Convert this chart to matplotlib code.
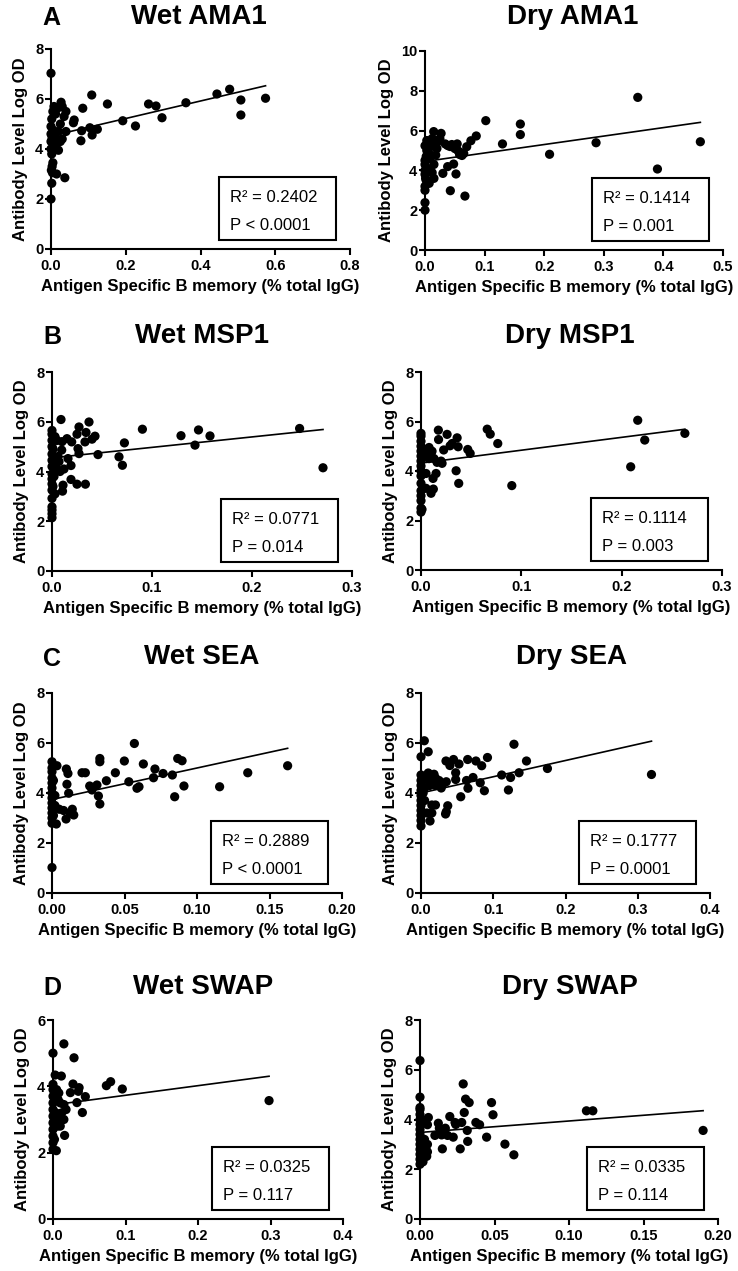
import matplotlib
matplotlib.use("Agg")
import matplotlib.pyplot as plt
from matplotlib.patches import Rectangle
import numpy as np

plt.rcParams['font.family'] = ['Liberation Sans', 'DejaVu Sans']

# ---------------- data ----------------
wet_ama1 = [(0, 7.03), (0, 2.0), (0.002, 2.63), (0.004, 3.05), (0.003, 3.3), (0.005, 3.45), (0.002, 3.8),
            (0, 4.0), (0, 4.3), (0, 4.6), (0, 4.9), (0.002, 5.2), (0.005, 5.5), (0.001, 3.15), (0.003, 4.45),
            (0.006, 4.75), (0.015, 3.0), (0.02, 3.95), (0.037, 2.85), (0.027, 5.87), (0.01, 5.5), (0.015, 5.6),
            (0.03, 5.7), (0.04, 5.5), (0.035, 5.3), (0.025, 5.0), (0.02, 4.7), (0.03, 4.4), (0.04, 4.7),
            (0.01, 4.5), (0.015, 4.2), (0.025, 4.3), (0.008, 5.7), (0.012, 5.4), (0.018, 5.65),
            (0.062, 5.16), (0.06, 5.05), (0.085, 5.63), (0.082, 4.73), (0.08, 4.33), (0.109, 6.16),
            (0.104, 4.85), (0.11, 4.56), (0.124, 4.79), (0.151, 5.8), (0.192, 5.13), (0.226, 4.92),
            (0.261, 5.8), (0.281, 5.72), (0.297, 5.25), (0.361, 5.85), (0.444, 6.2), (0.478, 6.39),
            (0.508, 5.96), (0.508, 5.36), (0.574, 6.03)]

dry_ama1 = [(0, 2.0), (0, 2.38), (0, 3.0), (0, 3.2), (0.002, 3.5), (0, 3.8), (0, 4.0), (0, 4.3), (0, 4.5),
            (0, 5.24), (0.003, 5.5), (0.002, 4.7), (0.004, 4.1), (0.001, 3.6), (0.003, 5.0),
            (0.0146, 5.95), (0.012, 3.89), (0.007, 3.35), (0.015, 3.6), (0.018, 4.77), (0.02, 5.4),
            (0.025, 5.6), (0.027, 5.86), (0.015, 4.3), (0.008, 4.6), (0.01, 5.2), (0.012, 5.6),
            (0.006, 4.9), (0.02, 5.1), (0.03, 3.85), (0.034, 5.33), (0.038, 4.19), (0.0425, 2.98),
            (0.045, 5.3), (0.048, 4.32), (0.052, 3.82), (0.054, 5.33), (0.055, 5.0), (0.06, 4.9),
            (0.065, 4.85), (0.067, 2.71), (0.07, 5.19), (0.077, 5.49), (0.086, 5.73), (0.038, 5.25),
            (0.042, 5.2), (0.05, 5.1), (0.058, 4.8), (0.062, 4.75), (0.102, 6.5), (0.13, 5.33),
            (0.16, 6.33), (0.16, 5.8), (0.209, 4.81), (0.287, 5.39), (0.357, 7.67), (0.39, 4.07),
            (0.462, 5.44)]

wet_msp1 = [(0, 2.14), (0, 2.3), (0, 2.45), (0, 2.58), (0, 2.92), (0, 3.25), (0, 3.5), (0, 3.7), (0, 3.9),
            (0, 4.2), (0, 4.45), (0, 4.7), (0, 5.0), (0, 5.25), (0, 5.5), (0, 5.65), (0.001, 3.4),
            (0.002, 3.8), (0.002, 4.3), (0.001, 4.9), (0.003, 5.4), (0.003, 3.1), (0.009, 6.09),
            (0.005, 5.25), (0.01, 5.2), (0.0097, 4.86), (0.005, 4.1), (0.011, 3.45), (0.0105, 3.21),
            (0.015, 5.32), (0.016, 4.52), (0.019, 4.24), (0.0197, 5.19), (0.019, 3.68), (0.025, 5.5),
            (0.027, 5.79), (0.025, 3.49), (0.026, 4.92), (0.027, 4.72), (0.034, 5.57), (0.0334, 3.49),
            (0.033, 5.19), (0.037, 5.99), (0.04, 5.3), (0.043, 5.42), (0.046, 4.68), (0.067, 4.59),
            (0.0704, 4.25), (0.0724, 5.15), (0.0904, 5.7), (0.129, 5.44), (0.143, 5.06), (0.1465, 5.67),
            (0.158, 5.43), (0.2476, 5.73), (0.271, 4.15), (0.007, 4.4), (0.008, 4.0), (0.006, 4.6),
            (0.012, 4.1)]

dry_msp1 = [(0, 2.34), (0, 2.5), (0, 2.8), (0, 3.0), (0, 3.2), (0, 3.5), (0, 3.8), (0, 4.0), (0, 4.2),
            (0, 4.4), (0, 4.6), (0, 4.8), (0, 5.0), (0, 5.2), (0, 5.41), (0, 5.52), (0.001, 2.45),
            (0.002, 3.3), (0.005, 3.3), (0.005, 3.9), (0.008, 4.95), (0.01, 4.7), (0.01, 3.1),
            (0.0123, 3.27), (0.012, 3.7), (0.015, 3.9), (0.013, 4.5), (0.016, 4.35), (0.0173, 5.65),
            (0.0175, 5.27), (0.02, 4.4), (0.021, 4.31), (0.0226, 4.85), (0.026, 5.48), (0.029, 5.02),
            (0.031, 5.11), (0.035, 4.01), (0.036, 5.34), (0.037, 4.98), (0.0376, 3.5), (0.0466, 4.87),
            (0.049, 4.71), (0.066, 5.69), (0.069, 5.49), (0.0765, 5.11), (0.0905, 3.41), (0.209, 4.17),
            (0.216, 6.05), (0.223, 5.25), (0.263, 5.52), (0.006, 4.6), (0.004, 4.85), (0.008, 4.5),
            (0.011, 4.8)]

wet_sea = [(0, 1.02), (0, 2.79), (0, 3.0), (0, 3.2), (0, 3.4), (0, 3.6), (0, 3.8), (0, 4.0), (0, 4.2),
           (0, 4.4), (0, 4.6), (0, 4.85), (0, 5.0), (0, 5.25), (0.001, 3.1), (0.001, 4.5), (0.002, 3.5),
           (0.003, 2.76), (0.002, 3.9), (0.0034, 5.09), (0.005, 3.35), (0.008, 3.3), (0.0097, 2.96),
           (0.0099, 4.96), (0.011, 4.78), (0.0103, 4.35), (0.0115, 3.99), (0.0126, 3.19), (0.014, 3.35),
           (0.015, 3.12), (0.0207, 4.81), (0.023, 4.81), (0.026, 4.28), (0.0276, 4.12), (0.031, 4.32),
           (0.032, 3.88), (0.033, 3.56), (0.033, 5.38), (0.033, 5.25), (0.0375, 4.49), (0.0437, 4.81),
           (0.0499, 5.28), (0.053, 4.45), (0.0568, 5.98), (0.0586, 4.19), (0.06, 4.25), (0.063, 5.16),
           (0.071, 4.96), (0.07, 4.61), (0.0766, 4.78), (0.083, 4.72), (0.0846, 3.85), (0.0867, 5.38),
           (0.0897, 5.29), (0.091, 4.28), (0.1156, 4.25), (0.135, 4.81), (0.1625, 5.09)]

dry_sea = [(0, 2.68), (0, 2.9), (0, 3.1), (0, 3.3), (0, 3.5), (0, 3.7), (0, 3.9), (0, 4.1), (0, 4.3),
           (0, 4.5), (0, 4.72), (0, 5.45), (0.0046, 6.09), (0.01, 5.65), (0.005, 3.7), (0.008, 3.2),
           (0.0125, 2.88), (0.01, 4.8), (0.01, 4.5), (0.015, 4.4), (0.015, 4.7), (0.02, 4.6), (0.02, 4.3),
           (0.015, 3.52), (0.02, 3.52), (0.015, 3.2), (0.025, 4.5), (0.028, 4.2), (0.0346, 5.28),
           (0.034, 3.16), (0.035, 3.25), (0.037, 3.49), (0.035, 4.45), (0.04, 5.1), (0.045, 5.34),
           (0.048, 4.81), (0.048, 4.54), (0.0526, 5.16), (0.055, 3.85), (0.0646, 5.34), (0.063, 4.5),
           (0.065, 4.19), (0.072, 4.62), (0.076, 5.28), (0.082, 4.41), (0.084, 5.09), (0.0877, 4.09),
           (0.092, 5.42), (0.1117, 4.72), (0.121, 4.12), (0.124, 4.62), (0.1287, 5.95), (0.1357, 4.81),
           (0.146, 5.28), (0.175, 4.98), (0.319, 4.74), (0.005, 4.2), (0.007, 4.6), (0.003, 4.0),
           (0.012, 4.3), (0.018, 4.75), (0.03, 4.35)]

wet_swap = [(0, 5.0), (0.003, 4.34), (0, 2.1), (0, 2.3), (0, 2.5), (0, 2.7), (0, 2.9), (0, 3.1), (0, 3.3),
            (0, 3.5), (0, 3.7), (0, 3.9), (0, 4.06), (0.002, 2.4), (0.002, 3.0), (0.003, 3.6),
            (0.004, 3.2), (0.005, 3.9), (0.006, 2.8), (0.0046, 2.06), (0.015, 5.28), (0.0115, 4.31),
            (0.029, 4.86), (0.016, 2.52), (0.008, 3.8), (0.01, 3.5), (0.012, 3.2), (0.015, 3.0),
            (0.018, 3.3), (0.015, 3.45), (0.024, 3.81), (0.0276, 4.07), (0.033, 3.51), (0.036, 3.96),
            (0.035, 3.85), (0.0405, 3.21), (0.0446, 3.69), (0.0736, 4.02), (0.0795, 4.14),
            (0.0956, 3.92), (0.298, 3.57), (0.007, 3.6), (0.009, 3.0), (0.01, 2.8)]

dry_swap = [(0, 6.37), (0, 4.9), (0, 2.2), (0, 2.4), (0, 2.6), (0, 2.8), (0, 3.0), (0, 3.2), (0, 3.4),
            (0, 3.6), (0, 3.8), (0, 4.0), (0, 4.2), (0, 4.4), (0, 4.48), (0.003, 2.5), (0.004, 2.8),
            (0.005, 3.0), (0.003, 3.9), (0.002, 2.3), (0.004, 2.6), (0.005, 2.7), (0.003, 3.2),
            (0.0056, 4.08), (0.005, 3.79), (0.0045, 2.52), (0.01, 3.36), (0.0123, 3.85), (0.013, 3.65),
            (0.015, 2.82), (0.0145, 3.38), (0.017, 3.65), (0.0185, 3.36), (0.02, 4.12), (0.0223, 3.29),
            (0.024, 3.8), (0.0235, 3.88), (0.027, 2.82), (0.028, 3.88), (0.029, 5.43), (0.0297, 4.28),
            (0.0306, 4.82), (0.0317, 3.56), (0.033, 4.68), (0.032, 3.12), (0.0375, 3.88), (0.04, 3.79),
            (0.0447, 3.29), (0.048, 4.68), (0.049, 4.19), (0.057, 3.01), (0.063, 2.58), (0.1117, 4.35),
            (0.116, 4.35), (0.19, 3.56)]

titles = ["Wet AMA1", "Dry AMA1", "Wet MSP1", "Dry MSP1", "Wet SEA", "Dry SEA", "Wet SWAP", "Dry SWAP"]
panel_letters = ["A", "B", "C", "D"]
datasets = [wet_ama1, dry_ama1, wet_msp1, dry_msp1, wet_sea, dry_sea, wet_swap, dry_swap]
fit_intercept = [4.52, 4.45, 4.55, 4.32, 3.74, 4.00, 3.44, 3.48]
fit_slope = [3.5, 4.25, 4.2, 5.2, 12.6, 6.5, 2.9, 4.6]
r2_values = ["0.2402", "0.1414", "0.0771", "0.1114", "0.2889", "0.1777", "0.0325", "0.0335"]
p_values = ["P < 0.0001", "P = 0.001", "P = 0.014", "P = 0.003", "P < 0.0001", "P = 0.0001",
            "P = 0.117", "P = 0.114"]
x_max = [0.8, 0.5, 0.3, 0.3, 0.2, 0.4, 0.4, 0.2]
x_step = [0.2, 0.1, 0.1, 0.1, 0.05, 0.1, 0.1, 0.05]
x_fmt = ["%.1f", "%.1f", "%.1f", "%.1f", "%.2f", "%.1f", "%.1f", "%.2f"]
y_max = [8, 10, 8, 8, 8, 8, 6, 8]
x_label = "Antigen Specific B memory (% total IgG)"
y_label = "Antibody Level Log OD"

# ---------------- layout (pixels) ----------------
W, H = 738, 1271
axes_px = [(51, 350, 49, 249), (425, 723, 51, 250), (52, 352, 372, 571), (421, 722, 372, 570),
           (52, 342, 693, 893), (421, 710, 693, 893), (53, 343, 1020, 1219), (420, 718, 1020, 1219)]
title_px = [(199, 17), (573, 17), (202, 336), (570, 336), (202, 657), (571, 657), (203, 987), (570, 987)]
letter_px = [(51, 18), (52, 337), (52, 659), (52, 988)]
box_w_px, box_h_px, box_right_gap_px, box_bottom_gap_px = 117, 63, 14, 9

fig = plt.figure(figsize=(W / 100, H / 100), dpi=100)

for i, data in enumerate(datasets):
    l, r, t, b = axes_px[i]
    ax = fig.add_axes([l / W, 1 - b / H, (r - l) / W, (b - t) / H])
    xs = np.array([p[0] for p in data])
    ys = np.array([p[1] for p in data])
    ax.scatter(xs, ys, s=44, color="black", edgecolors="none", zorder=3, clip_on=False)
    xf = np.array([xs.min(), xs.max()])
    ax.plot(xf, fit_intercept[i] + fit_slope[i] * xf, color="black", lw=1.2, zorder=2)

    ax.set_xlim(0, x_max[i])
    ax.set_ylim(0, y_max[i])
    xt = np.arange(0, x_max[i] + 1e-9, x_step[i])
    ax.set_xticks(xt)
    ax.set_xticklabels([x_fmt[i] % v for v in xt])
    ax.set_yticks(np.arange(0, y_max[i] + 1, 2))
    for s in ["top", "right"]:
        ax.spines[s].set_visible(False)
    for s in ["left", "bottom"]:
        ax.spines[s].set_linewidth(1.5)
    ax.tick_params(axis="both", width=1.5, length=4.5, labelsize=10.5)
    ax.tick_params(axis="y", pad=1)
    ax.tick_params(axis="x", pad=3)
    for lab in ax.get_xticklabels() + ax.get_yticklabels():
        lab.set_fontweight("bold")
    ax.set_xlabel(x_label, fontsize=12, fontweight="bold", labelpad=4)
    ax.set_ylabel(y_label, fontsize=12, fontweight="bold", labelpad=5)

    aw, ah = r - l, b - t
    bx0 = (aw - box_right_gap_px - box_w_px) / aw
    by0 = box_bottom_gap_px / ah
    bw, bh = box_w_px / aw, box_h_px / ah
    ax.add_patch(Rectangle((bx0, by0), bw, bh, transform=ax.transAxes, fill=False,
                           edgecolor="black", lw=1.5, clip_on=False, zorder=4))
    tx = bx0 + 11 / aw
    ax.text(tx, by0 + bh * 0.67, "R\u00b2 = " + r2_values[i], transform=ax.transAxes,
            fontsize=12, va="center", ha="left")
    ax.text(tx, by0 + bh * 0.23, p_values[i], transform=ax.transAxes,
            fontsize=12, va="center", ha="left")

    tpx, tpy = title_px[i]
    fig.text(tpx / W, 1 - tpy / H, titles[i], fontsize=20, fontweight="bold", ha="center", va="center")

for j, letter in enumerate(panel_letters):
    lx, ly = letter_px[j]
    fig.text(lx / W, 1 - ly / H, letter, fontsize=18, fontweight="bold", ha="center", va="center")

fig.savefig("out.png", dpi=100, facecolor="white")
